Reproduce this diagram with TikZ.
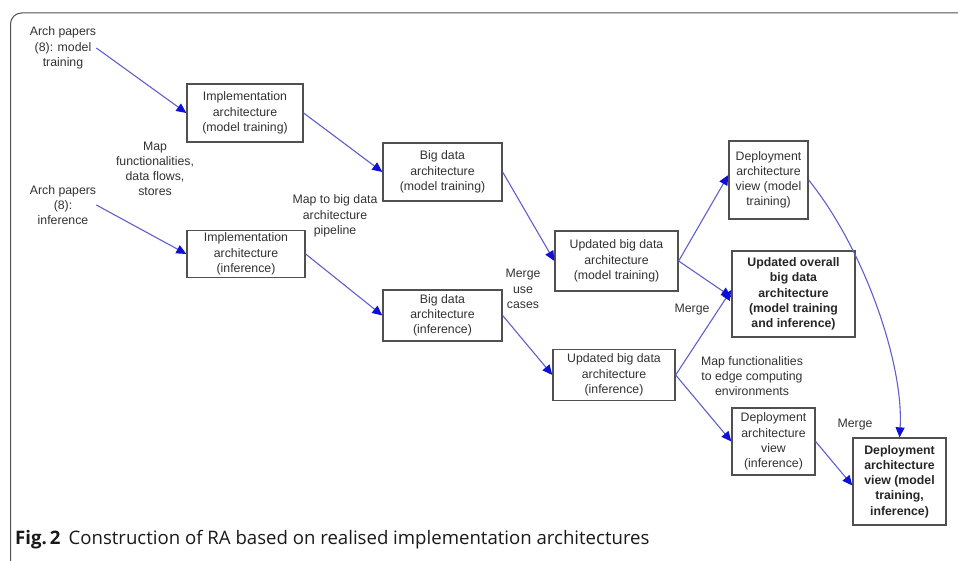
\documentclass[tikz,border=0pt]{standalone}
\usepackage{fontspec}
\setmainfont{Liberation Sans}
\newfontfamily\capfont{Open Sans}
\usetikzlibrary{arrows.meta}
\definecolor{linkblue}{RGB}{95,95,205}
\definecolor{tipblue}{RGB}{15,15,215}
\definecolor{boxgray}{RGB}{80,80,80}
\definecolor{txtgray}{RGB}{50,50,50}
\definecolor{framegray}{RGB}{80,80,80}
\begin{document}
\begin{tikzpicture}[x=1pt,y=-1pt,
  every node/.style={font=\fontsize{12.3}{15.2}\selectfont, text=txtgray, align=center, inner sep=0pt},
  stagebox/.style={draw=boxgray, line width=1.3pt, fill=white},
  boldbox/.style={stagebox, font=\fontsize{12.3}{15.2}\selectfont\bfseries, text=black!85},
  arr/.style={draw=linkblue, line width=1.1pt, -{Triangle[length=10pt,width=9pt,color=tipblue]}}]
\path[use as bounding box] (0,0) rectangle (958,561);
% outer frame (top and left edges with a rounded corner)
\draw[framegray, line width=1pt, rounded corners=11pt] (10.5,561) -- (10.5,13) -- (958,13);

% sources
\node (arch1) at (63,48) {Arch papers\\(8): model\\training};
\node (arch2) at (63,205) {Arch papers\\(8):\\inference};

% stages
\node[stagebox, minimum width=116pt, minimum height=58pt] (impl1) at (245,113) {Implementation\\architecture\\(model training)};
\node[stagebox, minimum width=118pt, minimum height=47pt] (impl2) at (246,254) {Implementation\\architecture\\(inference)};
\node[stagebox, minimum width=119pt, minimum height=58pt] (bd1) at (442.5,172) {Big data\\architecture\\(model training)};
\node[stagebox, minimum width=119pt, minimum height=51pt] (bd2) at (442.5,315.5) {Big data\\architecture\\(inference)};
\node[stagebox, minimum width=123pt, minimum height=60pt] (ubd1) at (616.5,261) {Updated big data\\architecture\\(model training)};
\node[stagebox, minimum width=122pt, minimum height=51pt] (ubd2) at (614,375) {Updated big data\\architecture\\(inference)};
\node[stagebox, minimum width=79pt, minimum height=78pt] (dep1) at (768.5,180) {Deployment\\architecture\\view (model\\training)};
\node[boldbox, minimum width=123pt, minimum height=86pt] (ovr) at (793.5,294) {Updated overall\\big data\\architecture\\(model training\\and inference)};
\node[stagebox, minimum width=83pt, minimum height=67pt] (dep2) at (773.5,441.5) {Deployment\\architecture\\view\\(inference)};
\node[boldbox, minimum width=93pt, minimum height=87pt] (fin) at (899.5,481.5) {Deployment\\architecture\\view (model\\training,\\inference)};

% step labels
\node (lmap) at (155,169) {Map\\functionalities,\\data flows,\\stores};
\node (lpipe) at (335,216) {Map to big data\\architecture\\pipeline};
\node (lcases) at (523,289) {Merge\\use\\cases};
\node (lmerge1) at (692,310) {Merge};
\node (ledge) at (752,376) {Map functionalities\\to edge computing\\environments};
\node (lmerge2) at (855,425) {Merge};

% connectors
\draw[arr] (arch1.east) -- (impl1.west);
\draw[arr] (arch2.east) -- (impl2.west);
\draw[arr] (impl1.east) -- (bd1.west);
\draw[arr] (impl2.east) -- (bd2.west);
\draw[arr] (bd1.east) -- (ubd1.west);
\draw[arr] (bd2.east) -- (ubd2.west);
\draw[arr] (ubd1.east) -- ([yshift=5pt]dep1.west);
\draw[arr] (ubd1.east) -- ([yshift=-3pt]ovr.west);
\draw[arr] (ubd2.east) -- ([yshift=4pt]ovr.west);
\draw[arr] (ubd2.east) -- (dep2.west);
\draw[arr] (dep2.east) -- ([yshift=-4pt]fin.west);
\draw[arr] (dep1.east) .. controls (865,250) and (904,365) .. (fin.north);

% caption
\node[anchor=base west, font=\capfont\fontsize{18.6}{21}\selectfont, text=black!90] (cap) at (15,544)
  {\textbf{Fig.\,2}\hspace{8pt}Construction of RA based on realised implementation architectures};
\end{tikzpicture}
\end{document}
